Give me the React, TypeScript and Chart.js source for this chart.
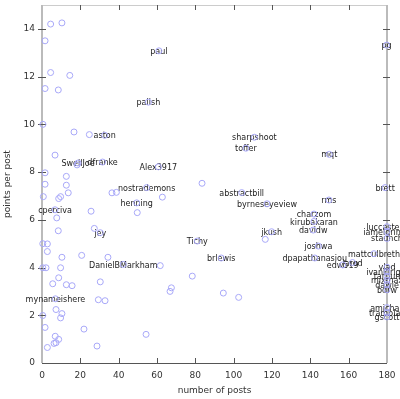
import React, { useEffect, useRef } from "react";
import { Chart, registerables } from "chart.js";

Chart.register(...registerables);

const xTicks = [0, 20, 40, 60, 80, 100, 120, 140, 160, 180];
const yTicks = [0, 2, 4, 6, 8, 10, 12, 14];

const names = [
  "pg", "paul", "palish", "aston", "sharpshoot", "toffer", "mqt", "SwellJoe", "dfranke",
  "Alex3917", "brett", "nostrademons", "abstractbill", "henning", "byrneseyeview", "rms",
  "cperciva", "charzom", "kirubakaran", "davidw", "jey", "jkush", "Tichy", "joshwa",
  "brlewis", "dpapathanasiou", "DanielBMarkham", "edw519", "jarod", "mattculbreth",
  "mynameishere", "luccastera", "iamelgringo", "staunch", "vlad", "ivankirigin", "tarpun",
  "mixmax", "dawie", "bdrw", "amichail", "tramblay", "gscott",
];
const namedX = [
  179.8, 61.0, 55.5, 32.7, 110.8, 106.4, 149.9, 18.8, 31.6,
  60.7, 179.0, 54.6, 104.2, 49.4, 117.4, 149.7,
  6.8, 141.9, 141.9, 141.5, 30.4, 119.8, 81.0, 144.2,
  93.5, 142.3, 42.4, 156.9, 162.0, 173.2,
  7.0, 180, 180, 180, 180, 180, 180,
  180, 180, 180, 180, 180, 180,
];
const namedY = [
  13.32, 13.08, 10.93, 9.54, 9.46, 9.0, 8.74, 8.38, 8.42,
  8.22, 7.35, 7.35, 7.14, 6.71, 6.67, 6.83,
  6.42, 6.24, 5.93, 5.57, 5.46, 5.5, 5.11, 4.9,
  4.4, 4.4, 4.13, 4.11, 4.21, 4.58,
  2.69, 5.71, 5.51, 5.22, 4.01, 3.83, 3.63,
  3.46, 3.29, 3.07, 2.32, 2.11, 1.93,
];

const otherX = [
  4.5, 10.4, 1.6, 4.5, 14.5, 1.6, 8.5, 0.5, 16.7, 24.7, 6.8, 18.3, 1.6, 12.7, 1.6, 12.7,
  0.7, 8.7, 9.7, 13.7, 36.5, 38.8, 25.6, 7.7, 49.7, 8.5, 27.3, 0.4, 2.8, 2.8, 10.4, 20.7,
  34.4, 0.4, 2.1, 9.7, 8.7, 5.6, 12.7, 15.7, 30.4, 29.4, 32.9, 7.3, 10.4, 9.7, 0.4, 1.6,
  21.9, 6.9, 8.7, 6.3, 7.3, 2.8, 28.7, 54.3, 61.7, 78.4, 67.5, 66.8, 94.6, 102.6, 83.5,
  62.8, 116.5,
];
const otherY = [
  14.2, 14.25, 13.5, 12.17, 12.05, 11.5, 11.44, 10.0, 9.68, 9.57, 8.71, 8.3, 7.97, 7.82, 7.49, 7.45,
  6.97, 6.89, 6.97, 7.13, 7.13, 7.15, 6.36, 6.08, 6.3, 5.54, 5.64, 5.0, 4.99, 4.67, 4.43, 4.51,
  4.43, 3.99, 3.99, 3.99, 3.57, 3.32, 3.28, 3.24, 3.4, 2.65, 2.61, 2.24, 2.07, 1.89, 1.99, 1.49,
  1.42, 1.12, 0.99, 0.82, 0.85, 0.65, 0.71, 1.2, 4.08, 3.64, 3.15, 3.0, 2.93, 2.75, 7.53,
  6.95, 5.18,
];

const FONT = "'DejaVu Sans', sans-serif";
const POINT_COLOR = "#a8a8f8";

const framePlugin = {
  id: "framePlugin",
  beforeDatasetsDraw(chart: any) {
    const { ctx, chartArea } = chart;
    const { left, right, top, bottom } = chartArea;
    const xs = chart.scales.x;
    const ys = chart.scales.y;
    ctx.save();
    // frame
    ctx.strokeStyle = "#cccccc";
    ctx.lineWidth = 1;
    ctx.beginPath();
    ctx.moveTo(left, top + 0.5);
    ctx.lineTo(right, top + 0.5);
    ctx.stroke();
    ctx.strokeStyle = "#bbbbbb";
    ctx.lineWidth = 2;
    ctx.beginPath();
    ctx.moveTo(left, top);
    ctx.lineTo(left, bottom);
    ctx.moveTo(right, top);
    ctx.lineTo(right, bottom);
    ctx.stroke();
    ctx.strokeStyle = "#555555";
    ctx.lineWidth = 1;
    ctx.beginPath();
    ctx.moveTo(left, bottom + 0.5);
    ctx.lineTo(right, bottom + 0.5);
    ctx.stroke();
    // ticks
    ctx.strokeStyle = "#555555";
    ctx.lineWidth = 1;
    ctx.beginPath();
    for (const v of yTicks) {
      const py = Math.round(ys.getPixelForValue(v)) + 0.5;
      if (v !== 0) {
        ctx.moveTo(left - 4, py);
        ctx.lineTo(left + 4, py);
        ctx.moveTo(right - 4, py);
        ctx.lineTo(right + 3, py);
      }
    }
    for (const v of xTicks) {
      const px = Math.round(xs.getPixelForValue(v)) + 0.5;
      if (v !== 0 && v !== 180) {
        ctx.moveTo(px, top);
        ctx.lineTo(px, top + 5);
        ctx.moveTo(px, bottom);
        ctx.lineTo(px, bottom - 5);
      }
    }
    ctx.stroke();
    // tick labels
    ctx.fillStyle = "#333333";
    ctx.font = `9px ${FONT}`;
    ctx.textAlign = "right";
    ctx.textBaseline = "middle";
    for (const v of yTicks) {
      ctx.fillText(String(v), left - 7, ys.getPixelForValue(v));
    }
    ctx.textAlign = "center";
    ctx.textBaseline = "top";
    for (const v of xTicks) {
      ctx.fillText(String(v), xs.getPixelForValue(v), bottom + 8);
    }
    // axis titles
    ctx.textBaseline = "middle";
    ctx.fillText("number of posts", (left + right) / 2, 391);
    ctx.save();
    ctx.translate(8, (top + bottom) / 2);
    ctx.rotate(-Math.PI / 2);
    ctx.fillText("points per post", 0, 0);
    ctx.restore();
    // point labels
    ctx.fillStyle = "#222222";
    ctx.font = `8px ${FONT}`;
    const meta = chart.getDatasetMeta(0);
    meta.data.forEach((el: any, i: number) => {
      ctx.fillText(names[i], el.x, el.y + 1);
    });
    ctx.restore();
  },
};

export default function App() {
  const ref = useRef<HTMLCanvasElement>(null);
  useEffect(() => {
    if (!ref.current) return;
    const chart = new Chart(ref.current, {
      type: "scatter",
      data: {
        datasets: [
          {
            data: namedX.map((x, i) => ({ x, y: namedY[i] })),
            pointRadius: 3,
            pointBorderWidth: 1,
            pointBorderColor: POINT_COLOR,
            pointBackgroundColor: "rgba(0,0,0,0)",
            clip: false as any,
          },
          {
            data: otherX.map((x, i) => ({ x, y: otherY[i] })),
            pointRadius: 3,
            pointBorderWidth: 1,
            pointBorderColor: POINT_COLOR,
            pointBackgroundColor: "rgba(0,0,0,0)",
            clip: false as any,
          },
        ],
      },
      options: {
        animation: false,
        responsive: false,
        maintainAspectRatio: false,
        layout: { padding: { top: 4, right: 13, left: 0, bottom: 0 } },
        plugins: { legend: { display: false }, tooltip: { enabled: false } },
        scales: {
          x: {
            type: "linear",
            min: 0,
            max: 180,
            afterFit: (s: any) => { s.height = 36; s.paddingLeft = 0; s.paddingRight = 0; },
            grid: { display: false, drawTicks: false },
            border: { display: false },
            ticks: { display: false },
          },
          y: {
            type: "linear",
            min: 0,
            max: 15,
            afterFit: (s: any) => { s.width = 42; s.paddingTop = 0; s.paddingBottom = 0; },
            grid: { display: false, drawTicks: false },
            border: { display: false },
            ticks: { display: false },
          },
        },
      },
      plugins: [framePlugin],
    });
    return () => chart.destroy();
  }, []);
  return (
    <div style={{ position: "absolute", left: 0, top: 0, width: 400, height: 399, background: "#fff" }}>
      <canvas ref={ref} width={400} height={399} style={{ display: "block" }} />
    </div>
  );
}
